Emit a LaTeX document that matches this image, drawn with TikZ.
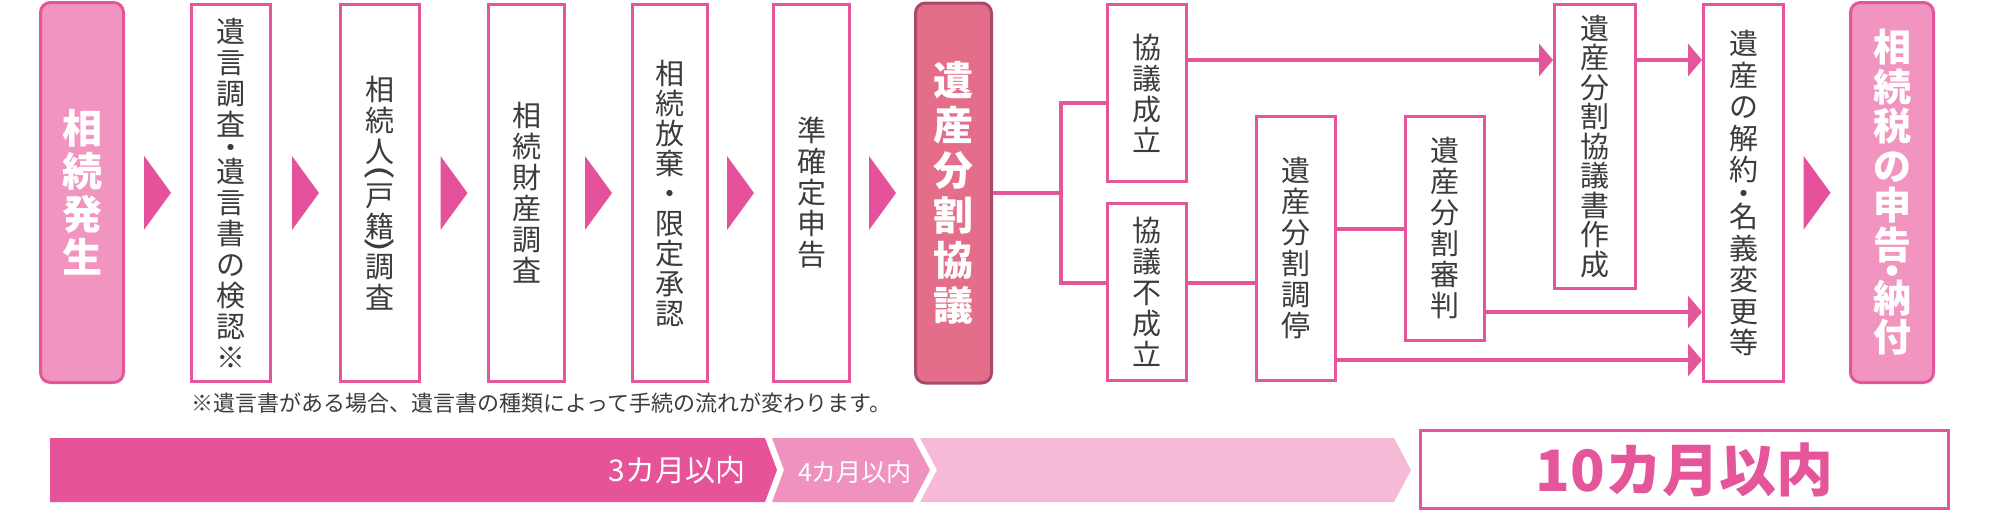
\documentclass[tikz,border=0pt]{standalone}
\usepackage{fontspec}
\usepackage{graphicx}
\setmainfont{Noto Sans CJK JP}
\usetikzlibrary{arrows.meta,calc}
\definecolor{pk}{HTML}{E5559A}
\definecolor{pkfill}{HTML}{F194BF}
\definecolor{rose}{HTML}{E46E8A}
\definecolor{rosedk}{HTML}{A94A6B}
\definecolor{tri}{HTML}{E5519A}
\definecolor{txt}{HTML}{3C3C3C}
\definecolor{barA}{HTML}{E65398}
\definecolor{barB}{HTML}{F092BE}
\definecolor{barC}{HTML}{F6B9D6}
\newcommand{\vparL}{\rotatebox[origin=c]{-90}{\scalebox{1.6}[1]{(}}}
\newcommand{\vparR}{\rotatebox[origin=c]{-90}{\scalebox{1.6}[1]{)}}}
\begin{document}
\begin{tikzpicture}[x=1pt,y=-1pt,
  stepbox/.style={draw=pk, line width=3pt, fill=white, inner sep=0pt, minimum width=79pt,
    align=center, text=txt, font=\fontsize{29pt}{31pt}\selectfont},
  keybox/.style={draw=pk, line width=3pt, fill=pkfill, rounded corners=10pt, inner sep=0pt,
    minimum width=83pt, minimum height=380pt, align=center, text=white,
    font=\bfseries\fontsize{40pt}{43pt}\selectfont},
  link/.style={draw=pk, line width=3.5pt},
  arr/.style={link, -{Triangle[length=14pt,width=32pt]}},
  chev/.style={fill=tri}
]
\useasboundingbox (0,0) rectangle (2000,512);

% main flow boxes
\node[keybox] (b1) at (82,192.5) {相\\続\\発\\生};
\node[stepbox, minimum height=377pt] (b2) at (231,193)
  {遺\\言\\調\\査\\[-7.5pt]・\\[-7.5pt]遺\\言\\書\\の\\検\\認\\※};
\node[stepbox, minimum height=377pt] (b3) at (380,193)
  {相\\続\\人\\[-12pt]\vparL\\[-6pt]戸\\籍\\[-14pt]\vparR\\[-8pt]調\\査};
\node[stepbox, minimum height=377pt, minimum width=76pt] (b4) at (526.5,193)
  {相\\続\\財\\産\\調\\査};
\node[stepbox, minimum height=377pt, minimum width=75pt, font=\fontsize{29pt}{30pt}\selectfont] (b5) at (670,193)
  {相\\続\\放\\棄\\・\\限\\定\\承\\認};
\node[stepbox, minimum height=377pt, minimum width=76pt] (b6) at (811.5,193)
  {準\\確\\定\\申\\告};
\node[keybox, fill=rose, draw=rosedk, minimum width=76pt, font=\bfseries\fontsize{40pt}{45pt}\selectfont] (b7) at (953.5,193)
  {遺\\産\\分\\割\\協\\議};

% branches
\node[stepbox, minimum height=177pt] (b8) at (1147,93) {協\\議\\成\\立};
\node[stepbox, minimum height=177pt] (b9) at (1147,292) {協\\議\\不\\成\\立};
\node[stepbox, minimum height=264pt] (b10) at (1296,248.5) {遺\\産\\分\\割\\調\\停};
\node[stepbox, minimum height=224pt] (b11) at (1445,228.5) {遺\\産\\分\\割\\審\\判};
\node[stepbox, minimum height=284pt, minimum width=81pt, font=\fontsize{29pt}{29.5pt}\selectfont] (b12) at (1595,146.5)
  {遺\\産\\分\\割\\協\\議\\書\\作\\成};
\node[stepbox, minimum height=377pt, minimum width=80pt, font=\fontsize{29pt}{31.5pt}\selectfont] (b13) at (1743.5,193)
  {遺\\産\\の\\解\\約\\[-8pt]・\\[-8pt]名\\義\\変\\更\\等};
\node[keybox, font=\bfseries\fontsize{38pt}{39.5pt}\selectfont] (b14) at (1892,192.5)
  {相\\続\\税\\の\\申\\告\\[-13pt]・\\[-13pt]納\\付};

% triangle markers between boxes
\foreach \a/\b in {b1/b2,b2/b3,b3/b4,b4/b5,b5/b6,b6/b7,b13/b14}{
  \fill[chev] ($(\a.east)!0.5!(\b.west)$) ++(-13.5,-37) -- ++(27,37) -- ++(-27,37) -- cycle;
}

% connectors
\coordinate (j) at (1061,193);
\draw[link] (b7.east) -- (j);
\draw[link] ([yshift=-10pt]b8.west) -| (j) |- ([yshift=9pt]b9.west);
\draw[arr] ([yshift=33pt]b8.east) -- ([yshift=33pt]b8.east -| b12.west);
\draw[arr] ([yshift=86.5pt]b12.east) -- ([yshift=86.5pt]b12.east -| b13.west);
\draw[link] ([yshift=9pt]b9.east) -- ([yshift=9pt]b9.east -| b10.west);
\draw[link] ([yshift=19.5pt]b10.east) -- ([yshift=19.5pt]b10.east -| b11.west);
\draw[arr] ([yshift=-83.5pt]b11.east) -- ([yshift=-83.5pt]b11.east -| b13.west);
\draw[arr] ([yshift=-111.5pt]b10.east) -- ([yshift=-111.5pt]b10.east -| b13.west);

% footnote
\node[anchor=west, text=txt, font=\fontsize{22pt}{22pt}\selectfont, inner sep=0pt] (note) at (191,403)
  {※遺言書がある場合、遺言書の種類によって手続の流れが変わります。};

% timeline bar
\fill[barA] (50,438) -- (765,438) -- (777,470) -- (765,502) -- (50,502) -- cycle;
\fill[barB] (772,438) -- (913,438) -- (930,470) -- (913,502) -- (772,502) -- (784,470) -- cycle;
\fill[barC] (920,438) -- (1394,438) -- (1411,470) -- (1394,502) -- (920,502) -- (937,470) -- cycle;
\node[text=white, font=\fontsize{30pt}{30pt}\selectfont, inner sep=0pt] (m3) at (677,470) {3カ月以内};
\node[text=white, font=\fontsize{25pt}{25pt}\selectfont, inner sep=0pt] (m4) at (855,472) {4カ月以内};
\node[draw=pk, line width=3pt, fill=white, minimum width=528pt, minimum height=78pt, inner sep=0pt,
  text=pk, font=\bfseries\fontsize{57pt}{57pt}\selectfont] (m10) at (1684.5,469.5) {10カ月以内};
\end{tikzpicture}
\end{document}
